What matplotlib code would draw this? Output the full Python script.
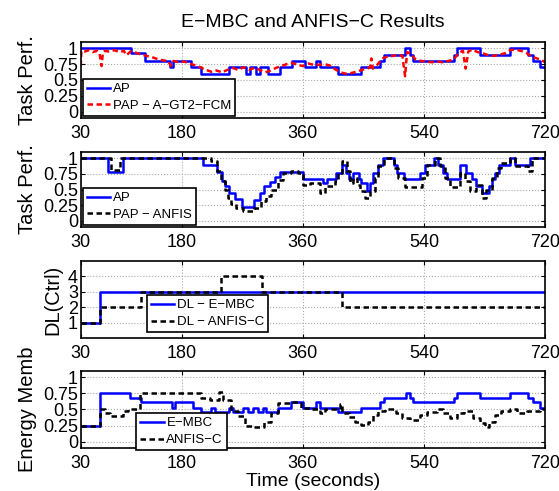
import matplotlib
matplotlib.use("Agg")
import matplotlib.pyplot as plt

# --- data ---
xticks = [30, 180, 360, 540, 720]

# panel 1 : AP (step) vs PAP - A-GT2-FCM
ap1_t = [30, 104, 125, 162, 167, 194, 209, 251, 276, 281, 290, 296, 309, 326, 344, 363,
         380, 386, 413, 447, 475, 480, 512, 519, 524, 584, 589, 623, 668, 695, 702, 712, 720]
ap1_v = [1.0, 0.92, 0.8, 0.7, 0.8, 0.7, 0.6, 0.7, 0.6, 0.7, 0.6, 0.7, 0.6, 0.7, 0.8, 0.7,
         0.8, 0.7, 0.6, 0.7, 0.8, 0.9, 1.0, 0.9, 0.8, 0.9, 1.0, 0.9, 1.0, 0.9, 0.8, 0.7, 0.7]

pap1_t = [30, 31, 36, 42, 48, 54, 58, 61, 63, 66, 72, 80, 88, 94, 98, 104, 112, 120, 128, 136,
          144, 152, 160, 164, 168, 176, 184, 192, 200, 208, 216, 224, 232, 240, 248, 256, 264, 272, 280, 288,
          296, 304, 312, 320, 328, 336, 344, 352, 360, 368, 376, 384, 392, 400, 408, 416, 424, 432, 440, 448,
          456, 460, 462, 464, 470, 478, 486, 494, 502, 508, 512, 515, 520, 528, 536, 544, 552, 560, 568, 576,
          584, 592, 598, 602, 606, 612, 620, 628, 636, 644, 652, 660, 668, 676, 684, 692, 700, 708, 714, 720]
pap1_v = [0.72, 0.96, 0.95, 0.97, 0.94, 0.96, 0.92, 0.72, 0.93, 0.96, 0.95, 0.97, 0.94, 0.96, 0.89, 0.95, 0.93, 0.9, 0.88, 0.86,
          0.83, 0.81, 0.8, 0.72, 0.8, 0.78, 0.79, 0.76, 0.73, 0.7, 0.66, 0.63, 0.65, 0.62, 0.66, 0.69, 0.66, 0.7, 0.66, 0.69,
          0.66, 0.62, 0.65, 0.69, 0.72, 0.75, 0.77, 0.74, 0.72, 0.76, 0.74, 0.74, 0.75, 0.73, 0.67, 0.62, 0.6, 0.61, 0.63, 0.66,
          0.68, 0.7, 0.84, 0.68, 0.73, 0.84, 0.87, 0.88, 0.9, 0.88, 0.56, 0.94, 0.92, 0.82, 0.8, 0.79, 0.78, 0.79, 0.78, 0.8,
          0.82, 0.93, 0.96, 0.68, 0.95, 0.98, 0.94, 0.92, 0.89, 0.88, 0.9, 0.92, 0.97, 0.98, 0.96, 0.93, 0.87, 0.84, 0.82, 0.78]

# panel 2 : AP vs PAP - ANFIS
ap2_t = [30, 70, 93, 212, 233, 240, 245, 251, 260, 270, 288, 296, 303, 311, 318, 326, 360, 390, 396, 410,
         418, 424, 429, 435, 443, 446, 456, 460, 465, 472, 479, 495, 500, 510, 534, 542, 555, 561, 568, 574,
         594, 603, 611, 618, 626, 636, 641, 646, 651, 668, 675, 698, 720]
ap2_v = [1.0, 0.78, 1.0, 0.9, 0.78, 0.64, 0.55, 0.45, 0.35, 0.22, 0.33, 0.44, 0.55, 0.62, 0.7, 0.78, 0.67, 0.6, 0.67, 0.76,
         0.9, 0.76, 0.67, 0.76, 0.67, 0.6, 0.47, 0.6, 0.76, 0.9, 1.0, 0.9, 0.76, 0.67, 0.76, 0.9, 1.0, 0.9, 0.76, 0.67,
         0.9, 0.76, 0.67, 0.55, 0.45, 0.55, 0.67, 0.77, 0.9, 1.0, 0.9, 1.0, 1.0]

pap2_t = [30, 75, 88, 224, 232, 238, 244, 249, 254, 261, 271, 288, 298, 306, 313, 323, 331, 343, 353, 360,
          370, 386, 393, 408, 413, 418, 425, 430, 435, 440, 445, 452, 460, 467, 472, 480, 495, 502, 512, 537,
          544, 556, 564, 571, 579, 594, 601, 608, 618, 626, 633, 641, 648, 655, 668, 675, 695, 700, 720]
pap2_v = [1.0, 0.82, 1.0, 0.95, 0.79, 0.63, 0.5, 0.37, 0.27, 0.21, 0.16, 0.21, 0.32, 0.4, 0.5, 0.66, 0.76, 0.79, 0.76, 0.57,
          0.6, 0.45, 0.55, 0.63, 0.76, 0.95, 0.79, 0.6, 0.68, 0.58, 0.47, 0.37, 0.47, 0.68, 0.87, 1.0, 0.84, 0.68, 0.54, 0.68,
          0.89, 1.0, 0.87, 0.68, 0.54, 0.76, 0.63, 0.47, 0.58, 0.37, 0.5, 0.68, 0.84, 0.92, 1.0, 0.87, 0.8, 1.0, 1.0]

# panel 3 : DL (Ctrl)
dl_mbc_t = [30, 59, 720]
dl_mbc_v = [1, 3, 3]
dl_anf_t = [30, 59, 120, 238, 299, 419, 720]
dl_anf_v = [1, 2, 3, 4, 3, 2, 2]

# panel 4 : Energy membership
en_mbc_t = [30, 58, 103, 120, 165, 170, 197, 209, 224, 230, 251, 256, 271, 279, 286, 293, 301, 306, 323, 343,
            360, 380, 385, 413, 447, 475, 480, 514, 519, 524, 584, 589, 623, 668, 695, 702, 712, 720]
en_mbc_v = [0.25, 0.75, 0.68, 0.61, 0.53, 0.61, 0.53, 0.46, 0.53, 0.46, 0.53, 0.46, 0.53, 0.46, 0.53, 0.46, 0.53, 0.46, 0.53, 0.61,
            0.53, 0.61, 0.53, 0.46, 0.53, 0.61, 0.68, 0.75, 0.68, 0.61, 0.68, 0.75, 0.68, 0.75, 0.68, 0.61, 0.53, 0.53]

en_anf_t = [30, 58, 66, 73, 93, 100, 118, 209, 222, 236, 241, 254, 264, 274, 284, 303, 313, 323, 343, 358,
            371, 386, 393, 415, 419, 428, 438, 447, 457, 465, 472, 482, 499, 507, 519, 534, 544, 559, 569, 579,
            589, 599, 613, 623, 631, 636, 645, 655, 668, 678, 693, 712, 720]
en_anf_v = [0.25, 0.5, 0.44, 0.4, 0.48, 0.5, 0.75, 0.68, 0.65, 0.77, 0.65, 0.48, 0.4, 0.25, 0.22, 0.3, 0.45, 0.6, 0.62, 0.53,
            0.5, 0.44, 0.5, 0.58, 0.44, 0.39, 0.31, 0.26, 0.31, 0.42, 0.48, 0.5, 0.44, 0.36, 0.33, 0.42, 0.46, 0.5, 0.44, 0.36,
            0.44, 0.47, 0.36, 0.29, 0.22, 0.31, 0.42, 0.47, 0.5, 0.44, 0.47, 0.5, 0.5]

perf_ticks = [0, 0.25, 0.5, 0.75, 1]
perf_labels = ["0", "0.25", "0.5", "0.75", "1"]

plt.rcParams["font.family"] = ["Liberation Sans", "DejaVu Sans"]

fig = plt.figure(figsize=(5.59, 4.91), dpi=100)

# axes boxes (left, bottom, width, height) in figure fraction
boxes = [
    [0.1444, 0.7597, 0.8306, 0.1548],
    [0.1444, 0.5377, 0.8306, 0.1527],
    [0.1444, 0.3116, 0.8306, 0.1568],
    [0.1444, 0.0876, 0.8306, 0.1568],
]
axs = [fig.add_axes(b) for b in boxes]

blue = "#0000ff"
lw = 1.8
dash = (2.2, 1.4)

ax = axs[0]
ax.step(ap1_t, ap1_v, where="post", color=blue, lw=lw, label="AP")
ax.plot(pap1_t, pap1_v, color="red", ls="--", dashes=dash, lw=lw, label="PAP \u2212 A\u2212GT2\u2212FCM")
ax.set_ylim(-0.1, 1.1)
ax.set_yticks(perf_ticks)
ax.set_yticklabels(perf_labels)
ax.set_ylabel("Task Perf.", fontsize=14.5)
ax.set_title("E\u2212MBC and ANFIS\u2212C Results", fontsize=14, pad=11)
leg_anchor = [(0.0, 0.0), (0.0, 0.0), (0.138, 0.05), (0.115, -0.055)]

ax = axs[1]
ax.step(ap2_t, ap2_v, where="post", color=blue, lw=lw, label="AP")
ax.step(pap2_t, pap2_v, where="post", color="black", ls="--", dashes=dash, lw=lw, label="PAP \u2212 ANFIS")
ax.set_ylim(-0.1, 1.1)
ax.set_yticks(perf_ticks)
ax.set_yticklabels(perf_labels)
ax.set_ylabel("Task Perf.", fontsize=14.5)

ax = axs[2]
ax.step(dl_mbc_t, dl_mbc_v, where="post", color=blue, lw=lw, label="DL \u2212 E\u2212MBC")
ax.step(dl_anf_t, dl_anf_v, where="post", color="black", ls="--", dashes=dash, lw=lw, label="DL \u2212 ANFIS\u2212C")
ax.set_ylim(0, 5)
ax.set_yticks([1, 2, 3, 4])
ax.set_ylabel("DL(Ctrl)", fontsize=14.5)

ax = axs[3]
ax.step(en_mbc_t, en_mbc_v, where="post", color=blue, lw=lw, label="E\u2212MBC")
ax.step(en_anf_t, en_anf_v, where="post", color="black", ls="--", dashes=dash, lw=lw, label="ANFIS\u2212C")
ax.set_ylim(-0.1, 1.1)
ax.set_yticks(perf_ticks)
ax.set_yticklabels(perf_labels)
ax.set_ylabel("Energy Memb", fontsize=14.5)
ax.set_xlabel("Time (seconds)", fontsize=14, labelpad=1)

for i, ax in enumerate(axs):
    ax.set_xlim(30, 720)
    ax.set_xticks(xticks)
    ax.grid(True, color="#aaaaaa", ls=":", lw=0.8)
    ax.tick_params(direction="in", top=True, right=True, length=3, width=0.8,
                   labelsize=13)
    ax.tick_params(axis="x", pad=5)
    ax.tick_params(axis="y", pad=2)
    for s in ax.spines.values():
        s.set_linewidth(1.2)
    leg = ax.legend(loc="lower left", bbox_to_anchor=leg_anchor[i], borderaxespad=0.15,
                    fontsize=9.5, frameon=True, fancybox=False, framealpha=1,
                    handlelength=1.8, handletextpad=0.2, borderpad=0.3, labelspacing=0.35)
    leg.get_frame().set_edgecolor("black")
    leg.get_frame().set_linewidth(1.2)

fig.savefig("out.png", dpi=100)
